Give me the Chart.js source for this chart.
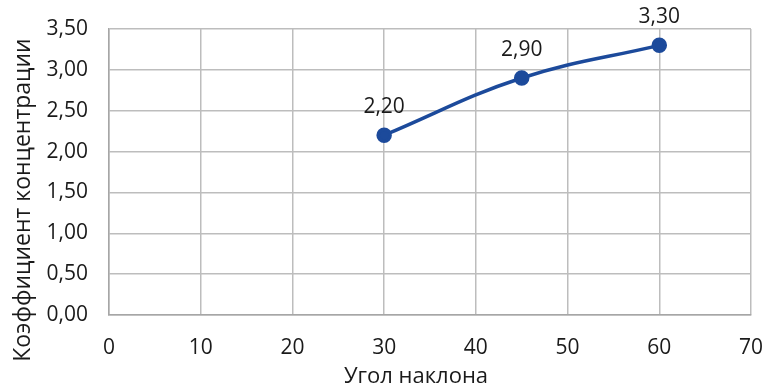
<!DOCTYPE html>
<html>
<head>
<meta charset="utf-8">
<script src="https://cdn.jsdelivr.net/npm/chart.js@4/dist/chart.umd.min.js"></script>
<style>
  html, body { margin: 0; padding: 0; background: #ffffff; }
  #wrap { width: 764px; height: 387px; }
</style>
</head>
<body>
<div id="wrap"><canvas id="c" width="764" height="387"></canvas></div>
<script>
// Угол наклона (градусы) и коэффициент концентрации
const angles = [30, 45, 60];
const concentration = [2.20, 2.90, 3.30];
const xTicks = [0, 10, 20, 30, 40, 50, 60, 70];
const yTicks = [0, 0.5, 1, 1.5, 2, 2.5, 3, 3.5];
const xTitle = 'Угол наклона';
const yTitle = 'Коэффициент концентрации';

const FONT = '"Open Sans", "Noto Sans", sans-serif';
const LINE = '#1c4a9b';
const fmt = v => v.toFixed(2).replace('.', ',');

// Подписи значений над точками и названия осей
const labelsPlugin = {
  id: 'labels',
  afterDatasetsDraw(chart) {
    const ctx = chart.ctx;
    const meta = chart.getDatasetMeta(0);
    ctx.save();
    ctx.fillStyle = '#1a1a1a';
    ctx.font = '21px ' + FONT;
    ctx.textAlign = 'center';
    ctx.textBaseline = 'middle';
    meta.data.forEach((pt, i) => {
      ctx.fillText(fmt(concentration[i]), pt.x, pt.y - 28);
    });

    ctx.font = '22px ' + FONT;
    ctx.textBaseline = 'alphabetic';
    ctx.fillText(xTitle, 416, 383);

    ctx.font = '23px ' + FONT;
    ctx.translate(30, 200);
    ctx.rotate(-Math.PI / 2);
    ctx.fillText(yTitle, 0, 0);
    ctx.restore();
  }
};

new Chart(document.getElementById('c'), {
  type: 'line',
  data: {
    datasets: [{
      data: angles.map((a, i) => ({ x: a, y: concentration[i] })),
      borderColor: LINE,
      backgroundColor: LINE,
      borderWidth: 3.5,
      pointRadius: 6,
      pointHoverRadius: 6,
      pointBackgroundColor: LINE,
      pointBorderColor: LINE,
      tension: 0.4,
      fill: false
    }]
  },
  options: {
    responsive: false,
    animation: false,
    events: [],
    layout: { padding: { top: 29, right: 13, left: 0, bottom: 0 } },
    plugins: { legend: { display: false }, tooltip: { enabled: false } },
    scales: {
      x: {
        type: 'linear',
        min: 0, max: 70,
        afterBuildTicks(s) { s.ticks = xTicks.map(v => ({ value: v })); },
        afterFit(s) { s.height = 72; s.paddingLeft = 0; s.paddingRight = 0; },
        grid: { color: '#bdbdbd', lineWidth: 1.5, drawTicks: false },
        border: { color: '#a6a6a6', width: 1.5 },
        ticks: {
          color: '#1a1a1a',
          font: { family: FONT, size: 21 },
          padding: 20,
          maxRotation: 0,
          callback: v => String(v)
        }
      },
      y: {
        min: 0, max: 3.5,
        afterBuildTicks(s) { s.ticks = yTicks.map(v => ({ value: v })); },
        afterFit(s) { s.width = 109; s.paddingTop = 0; s.paddingBottom = 0; },
        grid: { color: '#bdbdbd', lineWidth: 1.5, drawTicks: false },
        border: { color: '#a6a6a6', width: 1.5 },
        ticks: {
          color: '#1a1a1a',
          font: { family: FONT, size: 21 },
          padding: 21,
          callback: v => fmt(v)
        }
      }
    }
  },
  plugins: [labelsPlugin]
});
</script>
</body>
</html>
